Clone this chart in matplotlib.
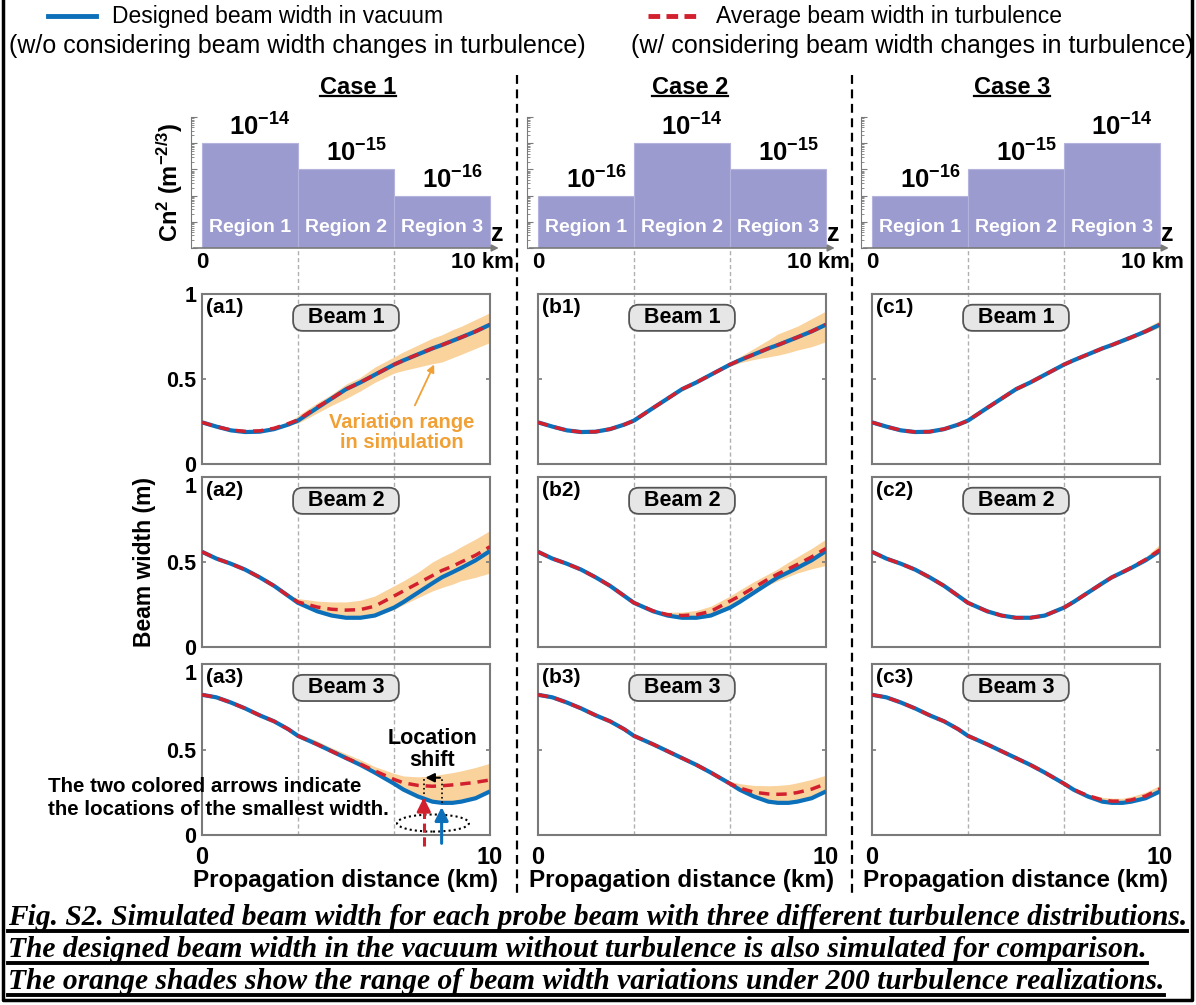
import numpy as np
import matplotlib
matplotlib.use('Agg')
import matplotlib.pyplot as plt
from matplotlib.lines import Line2D
from matplotlib.patches import Ellipse
from matplotlib.ticker import LogLocator

plt.rcParams['font.family'] = 'Liberation Sans'
plt.rcParams['mathtext.fontset'] = 'custom'
plt.rcParams['mathtext.rm'] = 'Liberation Sans:bold'
plt.rcParams['mathtext.default'] = 'rm'

# ---- data ----
edges = [0, 3.33, 6.67, 10]
case_names = ['Case 1', 'Case 2', 'Case 3']
case_cn2 = [[1e-14, 1e-15, 1e-16],
            [1e-16, 1e-14, 1e-15],
            [1e-16, 1e-15, 1e-14]]
region_names = ['Region 1', 'Region 2', 'Region 3']

x = [0, 0.5, 1, 1.5, 2, 2.5, 3, 3.33, 4, 4.5, 5, 5.5, 6, 6.67, 7, 7.5, 8, 8.33, 8.7, 9, 9.5, 10]

# designed (vacuum) beam widths
vac1 = [0.245, 0.22, 0.198, 0.188, 0.19, 0.205, 0.232, 0.255, 0.33, 0.385, 0.44, 0.48, 0.525,
        0.585, 0.61, 0.645, 0.68, 0.70, 0.725, 0.745, 0.78, 0.82]
vac2 = [0.56, 0.52, 0.49, 0.455, 0.41, 0.36, 0.30, 0.26, 0.21, 0.185, 0.172, 0.172, 0.185,
        0.232, 0.265, 0.32, 0.375, 0.41, 0.44, 0.465, 0.51, 0.565]
vac3 = [0.82, 0.805, 0.775, 0.74, 0.70, 0.665, 0.618, 0.58, 0.53, 0.49, 0.45, 0.41, 0.365,
        0.30, 0.265, 0.225, 0.195, 0.188, 0.188, 0.195, 0.215, 0.255]

# average widths in turbulence
avg_a1 = [0.245, 0.22, 0.2, 0.192, 0.195, 0.21, 0.238, 0.26, 0.335, 0.385, 0.44, 0.48, 0.525,
          0.585, 0.61, 0.645, 0.68, 0.70, 0.725, 0.745, 0.78, 0.82]
avg_b1 = vac1
avg_c1 = vac1
avg_a2 = [0.56, 0.52, 0.49, 0.455, 0.41, 0.36, 0.30, 0.265, 0.235, 0.222, 0.217, 0.22, 0.24,
          0.30, 0.33, 0.375, 0.42, 0.45, 0.475, 0.50, 0.54, 0.59]
avg_b2 = [0.56, 0.52, 0.49, 0.455, 0.41, 0.36, 0.30, 0.26, 0.212, 0.19, 0.185, 0.19, 0.21,
          0.27, 0.30, 0.35, 0.40, 0.43, 0.46, 0.485, 0.53, 0.58]
avg_c2 = [0.56, 0.52, 0.49, 0.455, 0.41, 0.36, 0.30, 0.26, 0.21, 0.185, 0.172, 0.172, 0.185,
          0.232, 0.265, 0.32, 0.375, 0.41, 0.44, 0.467, 0.515, 0.572]
avg_a3 = [0.82, 0.805, 0.775, 0.74, 0.70, 0.665, 0.618, 0.58, 0.53, 0.49, 0.45, 0.415, 0.375,
          0.325, 0.305, 0.29, 0.285, 0.288, 0.293, 0.298, 0.308, 0.322]
avg_b3 = [0.82, 0.805, 0.775, 0.74, 0.70, 0.665, 0.618, 0.58, 0.53, 0.49, 0.45, 0.41, 0.365,
          0.30, 0.275, 0.25, 0.24, 0.238, 0.24, 0.248, 0.268, 0.30]
avg_c3 = [0.82, 0.805, 0.775, 0.74, 0.70, 0.665, 0.618, 0.58, 0.53, 0.49, 0.45, 0.41, 0.365,
          0.30, 0.265, 0.23, 0.205, 0.198, 0.198, 0.205, 0.228, 0.27]

# variation range over turbulence realizations
band_a1_x = [3, 3.33, 4, 4.5, 5, 5.5, 6, 6.67, 7, 7.5, 8, 8.33, 8.7, 9, 9.5, 10]
band_a1_lo = [0.232, 0.24, 0.30, 0.345, 0.385, 0.43, 0.48, 0.535, 0.55, 0.57, 0.59, 0.60, 0.625, 0.645, 0.68, 0.715]
band_a1_hi = [0.235, 0.285, 0.36, 0.41, 0.47, 0.51, 0.57, 0.63, 0.66, 0.70, 0.74, 0.76, 0.79, 0.81, 0.85, 0.89]
band_b1_x = [6.0, 6.67, 7, 7.5, 8, 8.33, 8.7, 9, 9.5, 10]
band_b1_lo = [0.525, 0.575, 0.595, 0.615, 0.63, 0.64, 0.655, 0.67, 0.69, 0.72]
band_b1_hi = [0.53, 0.60, 0.63, 0.68, 0.73, 0.765, 0.79, 0.81, 0.855, 0.90]
band_c1_x = [8, 8.7, 9, 9.5, 10]
band_c1_lo = [0.675, 0.715, 0.735, 0.77, 0.805]
band_c1_hi = [0.685, 0.73, 0.755, 0.80, 0.845]
band_a2_x = [2.5, 3, 3.33, 4, 4.5, 5, 5.5, 6, 6.67, 7, 7.5, 8, 8.33, 8.7, 9, 9.5, 10]
band_a2_lo = [0.36, 0.30, 0.255, 0.205, 0.18, 0.167, 0.167, 0.18, 0.22, 0.25, 0.29, 0.33, 0.35, 0.37, 0.39, 0.41, 0.435]
band_a2_hi = [0.36, 0.31, 0.285, 0.27, 0.265, 0.265, 0.275, 0.30, 0.36, 0.39, 0.44, 0.50, 0.53, 0.56, 0.59, 0.635, 0.685]
band_b2_x = [4, 4.5, 5, 5.5, 6, 6.67, 7, 7.5, 8, 8.33, 8.7, 9, 9.5, 10]
band_b2_lo = [0.21, 0.185, 0.17, 0.17, 0.185, 0.232, 0.265, 0.315, 0.365, 0.39, 0.415, 0.435, 0.46, 0.48]
band_b2_hi = [0.215, 0.205, 0.205, 0.215, 0.24, 0.30, 0.335, 0.385, 0.43, 0.46, 0.50, 0.53, 0.58, 0.635]
band_c2_x = [8.7, 9, 9.5, 10]
band_c2_lo = [0.44, 0.46, 0.505, 0.555]
band_c2_hi = [0.445, 0.475, 0.53, 0.605]
band_a3_x = [3, 3.33, 4, 4.5, 5, 5.5, 6, 6.67, 7, 7.5, 8, 8.33, 8.7, 9, 9.5, 10]
band_a3_lo = [0.618, 0.575, 0.525, 0.485, 0.445, 0.405, 0.36, 0.295, 0.26, 0.22, 0.19, 0.183, 0.183, 0.19, 0.21, 0.25]
band_a3_hi = [0.622, 0.595, 0.55, 0.51, 0.475, 0.44, 0.40, 0.36, 0.345, 0.34, 0.345, 0.355, 0.365, 0.375, 0.395, 0.42]
band_b3_x = [6, 6.67, 7, 7.5, 8, 8.33, 8.7, 9, 9.5, 10]
band_b3_lo = [0.365, 0.298, 0.262, 0.222, 0.193, 0.186, 0.186, 0.193, 0.213, 0.253]
band_b3_hi = [0.37, 0.315, 0.30, 0.29, 0.288, 0.29, 0.295, 0.305, 0.325, 0.35]
band_c3_x = [7, 7.5, 8, 8.33, 8.7, 9, 9.5, 10]
band_c3_lo = [0.265, 0.225, 0.195, 0.188, 0.188, 0.195, 0.215, 0.255]
band_c3_hi = [0.27, 0.24, 0.22, 0.215, 0.215, 0.225, 0.25, 0.29]

vac = [vac1, vac2, vac3]
avg = {'a': [avg_a1, avg_a2, avg_a3], 'b': [avg_b1, avg_b2, avg_b3], 'c': [avg_c1, avg_c2, avg_c3]}
bands = {'a': [(band_a1_x, band_a1_lo, band_a1_hi), (band_a2_x, band_a2_lo, band_a2_hi), (band_a3_x, band_a3_lo, band_a3_hi)],
         'b': [(band_b1_x, band_b1_lo, band_b1_hi), (band_b2_x, band_b2_lo, band_b2_hi), (band_b3_x, band_b3_lo, band_b3_hi)],
         'c': [(band_c1_x, band_c1_lo, band_c1_hi), (band_c2_x, band_c2_lo, band_c2_hi), (band_c3_x, band_c3_lo, band_c3_hi)]}

caption = ["Fig. S2. Simulated beam width for each probe beam with three different turbulence distributions.",
           "The designed beam width in the vacuum without turbulence is also simulated for comparison.",
           "The orange shades show the range of beam width variations under 200 turbulence realizations."]

# ---- style ----
BLUE = '#0B6FBA'
RED = '#D2202E'
BAND = '#FAD29C'
BAR = '#9B9BCF'
ORANGE = '#F0A035'
SPINE = '#7a7a7a'

W, H = 1196, 1005
fig = plt.figure(figsize=(W / 100, H / 100), dpi=100)


def box(l, t, r, b):
    return [l / W, 1 - b / H, (r - l) / W, (b - t) / H]


def fx(px):
    return px / W


def fy(py):
    return 1 - py / H


col_left = [202, 538, 872]
col_w = 288
rows = [(294, 464), (477, 647), (664, 835)]
case_x = [358, 690, 1012]

texts_to_underline = []

for ci, col in enumerate('abc'):
    L = col_left[ci]
    # --- turbulence profile ---
    axb = fig.add_axes(box(L - 11.5, 117, L + col_w + 11.5, 248))
    axb.set_yscale('log')
    axb.set_xlim(-0.4, 10.4)
    axb.set_ylim(1e-18, 1e-13)
    cn2 = case_cn2[ci]
    axb.bar(edges[:-1], np.array(cn2) - 1e-18, width=np.diff(edges), bottom=1e-18, align='edge',
            color=BAR, edgecolor='#b3b3dd', linewidth=0.8)
    for k in range(3):
        cx = (edges[k] + edges[k + 1]) / 2
        expo = int(round(np.log10(cn2[k])))
        axb.text(cx + 0.35, cn2[k] * 10 ** 0.28, r'$10^{%d}$' % expo, ha='center', va='baseline', fontsize=18.5)
        axb.text(cx, 10 ** -17.2, region_names[k], ha='center', va='center', color='white',
                 fontsize=14, fontweight='bold')
    for s in ['top', 'right', 'bottom']:
        axb.spines[s].set_visible(False)
    axb.spines['left'].set_color(SPINE)
    axb.yaxis.set_major_locator(LogLocator(base=10, numticks=20))
    axb.yaxis.set_minor_locator(LogLocator(base=10, subs=np.arange(2, 10), numticks=100))
    axb.tick_params(axis='y', which='both', direction='in', colors=SPINE, labelleft=False, length=4)
    axb.tick_params(axis='y', which='minor', length=2.2)
    axb.set_xticks([])
    axb.patch.set_alpha(0)
    axb.annotate('', xy=(1.0, 0), xytext=(0, 0), xycoords='axes fraction',
                 arrowprops=dict(arrowstyle='-|>', color=SPINE, lw=1.2, mutation_scale=10))
    axb.text(10.24, 10 ** -17.45, 'z', ha='center', va='center', fontsize=18, fontweight='bold')
    axb.text(0, -0.11, '0', transform=axb.get_xaxis_transform(), ha='center', va='center',
             fontsize=16, fontweight='bold')
    axb.text(9.75, -0.11, '10 km', transform=axb.get_xaxis_transform(), ha='center', va='center',
             fontsize=16, fontweight='bold')

    t = fig.text(fx(case_x[ci]), fy(88), case_names[ci], ha='center', va='center', fontsize=17, fontweight='bold')
    texts_to_underline.append((t, 3, 1.6))

    # --- beam width panels ---
    for ri in range(3):
        top, bot = rows[ri]
        ax = fig.add_axes(box(L, top, L + col_w, bot))
        bx, blo, bhi = bands[col][ri]
        ax.fill_between(bx, blo, bhi, color=BAND, lw=0, zorder=1)
        ax.plot(x, vac[ri], color=BLUE, lw=3, zorder=3, solid_capstyle='butt')
        ax.plot(x, avg[col][ri], color=RED, lw=2.5, ls=(0, (3, 2)), zorder=4)
        ax.set_xlim(0, 10)
        ax.set_ylim(0, 1)
        ymax = 1 + (top - 248) / (bot - top) if ri == 0 else 1.0
        ymin = -13 / (bot - top) if ri < 2 else 0.0
        for e in edges[1:-1]:
            ax.axvline(e, ymin=ymin, ymax=ymax, color='#b0b0b0', lw=1, ls=(0, (3, 2)),
                       clip_on=False, zorder=0)
        for s in ax.spines.values():
            s.set_color(SPINE)
            s.set_linewidth(1.5)
        ax.set_yticks([0, 0.5, 1])
        ax.set_xticks([0, 10])
        ax.tick_params(direction='in', length=3, right=True, color=SPINE, width=1.2)
        ax.tick_params(axis='x', labelbottom=(ri == 2), labelsize=17, pad=8)
        if ci == 0:
            ylabs = ax.set_yticklabels(['0', '0.5', '1'], fontsize=15.5, fontweight='bold')
            if ri > 0:
                ylabs[-1].set_verticalalignment('top')
            ax.tick_params(axis='y', pad=4)
        else:
            ax.tick_params(axis='y', labelleft=False)
        if ri == 2:
            ax.set_xticklabels(['0', '10'], fontsize=17, fontweight='bold')
        ax.text(0.015, 0.975, '(%s%d)' % (col, ri + 1), transform=ax.transAxes, ha='left', va='top',
                fontsize=15, fontweight='bold')
        ax.text(0.5, 0.86, '  Beam %d  ' % (ri + 1), transform=ax.transAxes, ha='center', va='center',
                fontsize=15.5, fontweight='bold', zorder=6,
                bbox=dict(boxstyle='round,pad=0.12,rounding_size=0.45', fc='#e6e6e6', ec='#555555', lw=1.3))
        if col == 'a' and ri == 0:
            ax.text(6.94, 0.185, 'Variation range\nin simulation', ha='center', va='center', color=ORANGE,
                    fontsize=14.5, fontweight='bold', linespacing=1.1, zorder=6)
            ax.annotate('', xy=(8.1, 0.6), xytext=(7.35, 0.33),
                        arrowprops=dict(arrowstyle='-|>', color=ORANGE, lw=1.3, mutation_scale=11), zorder=6)
        if col == 'a' and ri == 2:
            ax.add_patch(Ellipse((8.02, 0.07), 2.5, 0.1, fill=False, ls=(0, (1, 1.5)), lw=1.5, ec='k',
                                 clip_on=False, zorder=5))
            ax.plot([7.7, 7.7], [-0.065, 0.19], color=RED, lw=2.2, ls=(0, (3, 1.5)), clip_on=False, zorder=5)
            ax.annotate('', xy=(7.7, 0.235), xytext=(7.7, 0.17),
                        arrowprops=dict(arrowstyle='-|>', color=RED, lw=2.2, mutation_scale=20),
                        annotation_clip=False, zorder=5)
            ax.annotate('', xy=(8.32, 0.18), xytext=(8.32, -0.065),
                        arrowprops=dict(arrowstyle='-|>', color=BLUE, lw=2.2, mutation_scale=20),
                        annotation_clip=False, zorder=5)
            ax.plot([7.7, 7.7], [0.24, 0.34], color='k', lw=1.2, ls=':', zorder=5)
            ax.plot([8.32, 8.32], [0.19, 0.34], color='k', lw=1.2, ls=':', zorder=5)
            ax.annotate('', xy=(7.66, 0.335), xytext=(8.36, 0.335),
                        arrowprops=dict(arrowstyle='-|>', color='k', lw=1.5, mutation_scale=13), zorder=6)
            ax.text(7.99, 0.50, 'Location\nshift', ha='center', va='center', fontsize=15.5,
                    fontweight='bold', linespacing=1.1, zorder=6)

    fig.text(fx(L + col_w / 2), fy(880), 'Propagation distance (km)', ha='center', va='center',
             fontsize=17.5, fontweight='bold')

# axis titles
fig.text(fx(170), fy(182), r'Cn$^{2}$ (m$^{-2/3}$)', rotation=90, ha='center', va='center', fontsize=17,
         fontweight='bold')
fig.text(fx(145), fy(562), 'Beam width (m)', rotation=90, ha='center', va='center', fontsize=16.5,
         fontweight='bold')
fig.text(fx(48), fy(798), 'The two colored arrows indicate\nthe locations of the smallest width.',
         ha='left', va='center', fontsize=14.8, fontweight='bold', linespacing=1.25)

# legend at the top
fig.add_artist(Line2D([fx(48), fx(96)], [fy(16), fy(16)], color=BLUE, lw=3.5))
fig.text(fx(112), fy(16), 'Designed beam width in vacuum', ha='left', va='center', fontsize=16.5)
fig.text(fx(297), fy(46), '(w/o considering beam width changes in turbulence)', ha='center', va='center',
         fontsize=18)
fig.add_artist(Line2D([fx(648), fx(700)], [fy(16), fy(16)], color=RED, lw=3.5, ls=(0, (2.4, 1.3))))
fig.text(fx(716), fy(16), 'Average beam width in turbulence', ha='left', va='center', fontsize=16.5)
fig.text(fx(912), fy(46), '(w/ considering beam width changes in turbulence)', ha='center', va='center',
         fontsize=18)

# black dashed column separators
for sx in [517, 852]:
    fig.add_artist(Line2D([fx(sx), fx(sx)], [fy(75), fy(898)], color='k', lw=1.6, ls=(0, (4, 2.5))))

# caption, scaled to the frame width
cap_texts = []
for i, line in enumerate(caption):
    t = fig.text(fx(8), fy(925 + 32 * i), line, ha='left', va='baseline', fontsize=20,
                 family='Liberation Serif', style='italic', fontweight='bold')
    cap_texts.append(t)
fig.canvas.draw()
r = fig.canvas.get_renderer()
w0 = cap_texts[0].get_window_extent(r).width
for t in cap_texts:
    t.set_fontsize(20 * 1180 / w0)
fig.canvas.draw()
for t in cap_texts:
    texts_to_underline.append((t, 0, 2.8))

for t, dy, lw in texts_to_underline:
    bb = t.get_window_extent(r)
    yy = bb.y0 + dy
    fig.add_artist(Line2D([bb.x0 / W, bb.x1 / W], [yy / H, yy / H], color='k', lw=lw))

# outer frame
fig.add_artist(Line2D([fx(3), fx(3), fx(1192), fx(1192)], [fy(0), fy(1000), fy(1000), fy(0)],
                      color='k', lw=2.5))

fig.savefig('out.png', dpi=100)
